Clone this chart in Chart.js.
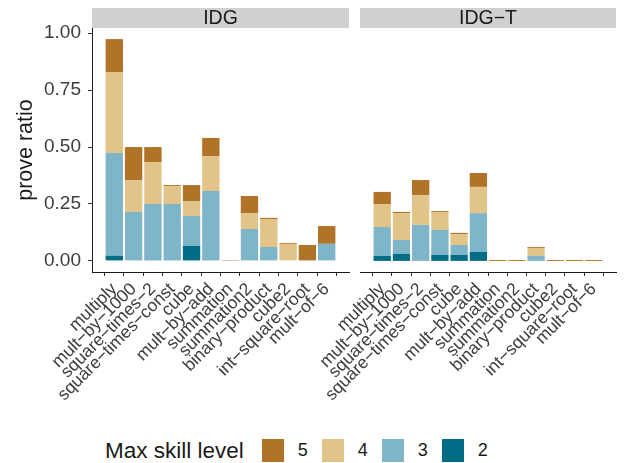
<!DOCTYPE html>
<html lang="en">
<head>
<meta charset="utf-8">
<title>prove ratio by max skill level</title>
<script src="https://cdn.jsdelivr.net/npm/chart.js@4.4.0/dist/chart.umd.min.js"></script>
<style>
  body{margin:0;background:#fff;font-family:"Liberation Sans",Arial,sans-serif;}
  #wrap{position:relative;width:625px;height:463px;overflow:hidden;}
  #c1{position:absolute;left:0;top:0;}
  #c2{position:absolute;left:300px;top:0;}
  #legend{position:absolute;left:105px;top:439px;height:23px;display:flex;align-items:center;color:#1a1a1a;}
  #legend .ttl{font-size:22.5px;margin-right:18px;}
  #legend .key{width:22px;height:23px;margin-right:14px;}
  #legend .lab{font-size:18px;margin-right:14px;}
</style>
</head>
<body>
<div id="wrap">
  <canvas id="c1" width="360" height="420"></canvas>
  <canvas id="c2" width="325" height="420"></canvas>
  <div id="legend"></div>
</div>

<script>
/* ---------------- data ---------------- */
const categories = [
  'multiply','mult−by−1000','square−times−2','square−times−const','cube','mult−by−add',
  'summation','summation2','binary−product','cube2','int−square−root','mult−of−6'
];
const panels = ['IDG', 'IDG−T'];
const levels = ['2', '3', '4', '5'];
const yTicks = [0, 0.25, 0.5, 0.75, 1];

// share of each category, stacked by max skill level (2 bottom .. 5 top)
const idgL2  = [0.022,0,    0,    0,    0.066,0,    0,    0,    0,    0,    0,    0    ];
const idgL3  = [0.452,0.215,0.25, 0.25, 0.131,0.307,0,    0.14, 0.061,0,    0,    0.075];
const idgL4  = [0.355,0.14, 0.184,0.079,0.066,0.153,0,    0.07, 0.123,0.075,0,    0    ];
const idgL5  = [0.145,0.145,0.066,0.004,0.07, 0.08, 0.004,0.075,0.005,0.004,0.07, 0.078];

const idgtL2 = [0.022,0.031,0,    0.026,0.026,0.039,0,    0,    0,    0,    0,    0    ];
const idgtL3 = [0.127,0.061,0.158,0.11, 0.044,0.171,0,    0,    0.022,0,    0,    0    ];
const idgtL4 = [0.101,0.118,0.131,0.079,0.048,0.115,0,    0,    0.035,0,    0,    0    ];
const idgtL5 = [0.053,0.005,0.066,0.004,0.005,0.061,0.004,0.004,0.004,0.004,0.004,0.004];

const colors = {'2':'#006d87', '3':'#7fb5c8', '4':'#e2c489', '5':'#b07328'};

/* ---------------- facet strip ---------------- */
const stripPlugin = {
  id:'strip',
  afterDraw(chart, args, opts){
    const {ctx, chartArea:a} = chart;
    ctx.save();
    ctx.fillStyle = '#d0d0d0';
    ctx.fillRect(a.left, 8, a.right - a.left, 20);
    ctx.fillStyle = '#1a1a1a';
    ctx.font = '19.5px "Liberation Sans", Arial, sans-serif';
    ctx.textAlign = 'center';
    ctx.textBaseline = 'middle';
    ctx.fillText(opts.text, (a.left + a.right) / 2, 18.5);
    ctx.restore();
  }
};

function makePanel(id, strip, series, showY, padRight){
  return new Chart(document.getElementById(id), {
    type:'bar',
    data:{
      labels:categories.map((_, i) => i),
      datasets:levels.map((lv, k) => ({
        label:lv,
        data:series[k],
        backgroundColor:colors[lv],
        barPercentage:0.9,
        categoryPercentage:1
      }))
    },
    options:{
      responsive:false,
      animation:false,
      layout:{padding:{top:28, right:padRight, left:0, bottom:0}},
      plugins:{legend:{display:false}, tooltip:{enabled:false}, strip:{text:strip}},
      scales:{
        x:{
          type:'linear', stacked:true, min:-0.6, max:categories.length - 0.4,
          afterBuildTicks:s => { s.ticks = categories.map((_, i) => ({value:i})); },
          afterFit:s => { s.height = 148; },
          ticks:{autoSkip:false, minRotation:45, maxRotation:45, padding:3,
                 color:'#3d3d3d', font:{size:17.5}, callback:v => categories[v]},
          grid:{drawOnChartArea:false, tickLength:4, color:'#333'},
          border:{color:'#1a1a1a', width:1}
        },
        y:{
          stacked:true, min:-0.0487, max:1.0227,
          afterBuildTicks:s => { s.ticks = yTicks.map(v => ({value:v})); },
          afterFit:s => { s.width = showY ? 92 : 60; },
          ticks:{display:showY, padding:7, color:'#3d3d3d', font:{size:19},
                 callback:v => v.toFixed(2)},
          grid:{display:showY, drawOnChartArea:false, tickLength:4, color:'#333'},
          border:{display:showY, color:'#1a1a1a', width:1},
          title:{display:showY, text:'prove ratio', color:'#1a1a1a',
                 font:{size:21.5}, padding:{top:13, bottom:0}}
        }
      }
    },
    plugins:[stripPlugin]
  });
}

Chart.defaults.font.family = '"Liberation Sans", Arial, sans-serif';
makePanel('c1', panels[0], [idgL2, idgL3, idgL4, idgL5], true, 11);
makePanel('c2', panels[1], [idgtL2, idgtL3, idgtL4, idgtL5], false, 9);

/* ---------------- legend ---------------- */
const lg = document.getElementById('legend');
lg.innerHTML = '<span class="ttl">Max skill level</span>' +
  levels.slice().reverse().map(lv =>
    `<span class="key" style="background:${colors[lv]}"></span><span class="lab">${lv}</span>`
  ).join('');
</script>
</body>
</html>
